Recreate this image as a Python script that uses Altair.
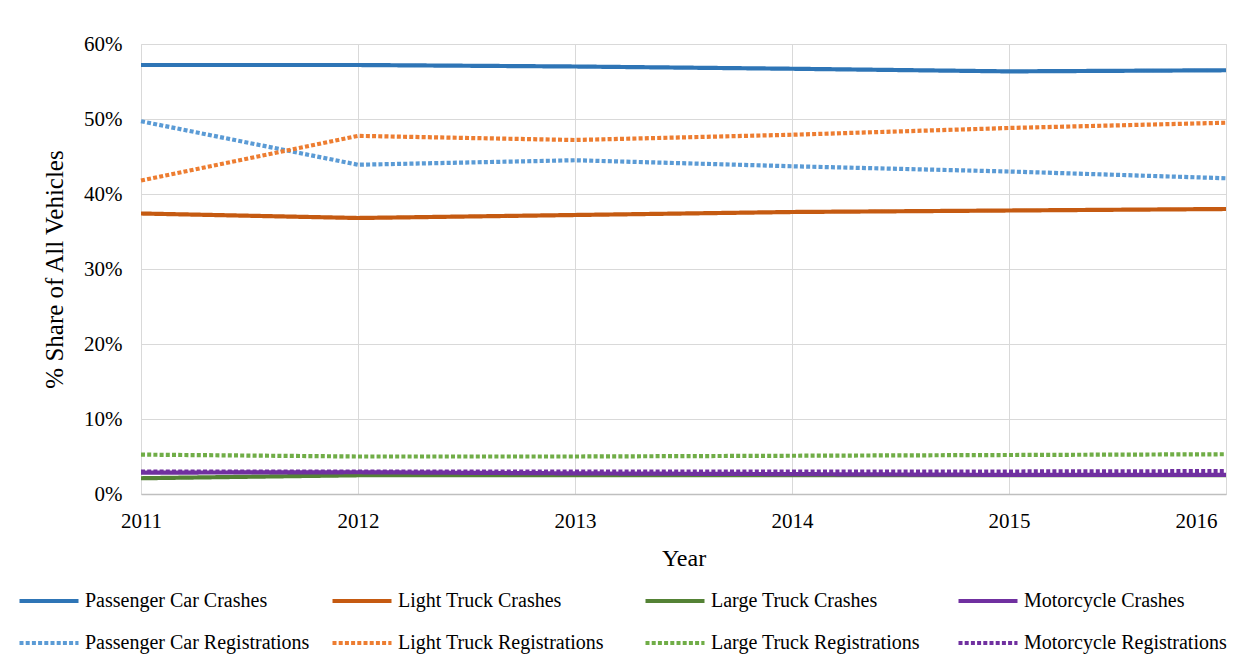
import altair as alt
import pandas as pd

years = [2011, 2012, 2013, 2014, 2015, 2016]

series_names = [
    "Passenger Car Crashes", "Light Truck Crashes", "Large Truck Crashes", "Motorcycle Crashes",
    "Passenger Car Registrations", "Light Truck Registrations", "Large Truck Registrations", "Motorcycle Registrations",
]

pc_crashes = [0.572, 0.572, 0.570, 0.567, 0.5635, 0.565]
lt_crashes = [0.374, 0.368, 0.372, 0.376, 0.378, 0.380]
large_crashes = [0.021, 0.025, 0.025, 0.025, 0.025, 0.025]
moto_crashes = [0.0285, 0.029, 0.0275, 0.0265, 0.0255, 0.0255]
pc_regs = [0.497, 0.439, 0.445, 0.437, 0.430, 0.421]
lt_regs = [0.418, 0.4775, 0.472, 0.479, 0.488, 0.495]
large_regs = [0.0525, 0.050, 0.050, 0.051, 0.052, 0.053]
moto_regs = [0.030, 0.030, 0.030, 0.030, 0.030, 0.0305]

colors = ["#2E75B6", "#C55A11", "#548235", "#7030A0",
          "#5B9BD5", "#ED7D31", "#70AD47", "#7030A0"]
dashes = [[1, 0]] * 4 + [[4, 2.2]] * 4
widths = [4.2] * 4 + [2.6] * 4

all_values = [pc_crashes, lt_crashes, large_crashes, moto_crashes,
              pc_regs, lt_regs, large_regs, moto_regs]

rows = []
for i, (name, vals) in enumerate(zip(series_names, all_values)):
    for y, v in zip(years, vals):
        rows.append({"Year": y, "Share": v, "Series": name, "order": i})
df = pd.DataFrame(rows)

FONT = "Liberation Serif"

legend = alt.Legend(
    title=None, orient="none", legendX=-124, legendY=525, columns=4,
    direction="horizontal",
    gridAlign="all", columnPadding=14, rowPadding=-19, padding=0,
    symbolType="stroke", symbolSize=3481, labelFont=FONT, labelFontSize=20,
    labelColor="#000000", labelOffset=4, labelLimit=400,
)

chart = alt.Chart(df).mark_line(strokeCap="butt").encode(
    x=alt.X("Year:Q", scale=alt.Scale(domain=[2011, 2016], nice=False),
            axis=alt.Axis(values=years, format="d", title="Year", labelFontSize=21,
                          titleFontSize=24, labelPadding=16, titlePadding=15,
                          labelFlush=False,
                          labelOffset=alt.expr("datum.value == 2016 ? -30 : 0"),
                          ticks=False, domainColor="#bfbfbf", domainWidth=1.5,
                          gridColor="#d9d9d9", labelFont=FONT, titleFont=FONT,
                          titleFontWeight="normal", labelColor="#000000",
                          titleColor="#000000")),
    y=alt.Y("Share:Q", scale=alt.Scale(domain=[0, 0.6], nice=False),
            axis=alt.Axis(values=[0, 0.1, 0.2, 0.3, 0.4, 0.5, 0.6], format=".0%",
                          title="% Share of All Vehicles", labelFontSize=21,
                          titleFontSize=25, labelPadding=19, titlePadding=16,
                          labelFlush=False,
                          ticks=False, domain=False, gridColor="#d9d9d9",
                          labelFont=FONT, titleFont=FONT, titleFontWeight="normal",
                          labelColor="#000000", titleColor="#000000")),
    color=alt.Color("Series:N", sort=series_names,
                    scale=alt.Scale(domain=series_names, range=colors), legend=legend),
    strokeDash=alt.StrokeDash("Series:N", sort=series_names,
                              scale=alt.Scale(domain=series_names, range=dashes), legend=legend),
    strokeWidth=alt.StrokeWidth("Series:N", sort=series_names,
                                scale=alt.Scale(domain=series_names, range=widths), legend=legend),
    order=alt.Order("order:Q"),
).properties(
    width=1085, height=450,
    autosize=alt.AutoSizeParams(type="none"),
    padding={"left": 133, "top": 36, "right": 12, "bottom": 166},
).configure_view(
    stroke="#d9d9d9", strokeWidth=1.5
).configure_legend(
    labelFont=FONT, labelFontSize=20
).configure(font=FONT)

chart.save("out.html", embed_options={"renderer": "svg", "actions": False})
